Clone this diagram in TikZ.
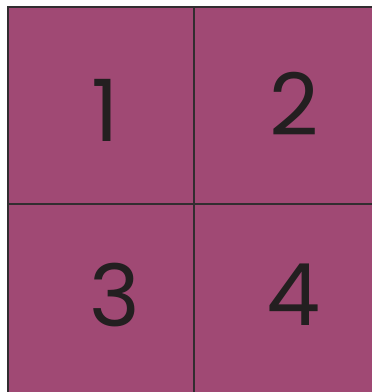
\documentclass[tikz,border=0pt]{standalone}
\usepackage{fontspec}
\setmainfont{Poppins}
\definecolor{cellfill}{RGB}{160,73,116}
\definecolor{ink}{RGB}{35,31,32}
\definecolor{edge}{RGB}{50,45,48}
\begin{document}
\begin{tikzpicture}[x=1pt,y=-1pt,
  digit/.style={text=ink,font=\fontsize{86}{90}\selectfont,inner sep=0pt,anchor=center},
  gridline/.style={draw=edge,line width=1.3pt}]
\useasboundingbox (0,0) rectangle (372,392);
\fill[cellfill] (8,7) rectangle (372,392);
\coordinate (tl) at (8,7);
\coordinate (tr) at (372,7);
\coordinate (bl) at (8,392);
\coordinate (mt) at (194,7);
\coordinate (mb) at (194,392);
\coordinate (ml) at (8,204);
\coordinate (mr) at (372,204);
\draw[gridline,line width=2pt] (bl) -- (tl) -- (tr);
\draw[gridline] (mt) -- (mb);
\draw[gridline] (ml) -- (mr);
\node[digit] (n1) at (105,110) {1};
\node[digit] (n2) at (294,104) {2};
\node[digit] (n3) at (115,295) {3};
\node[digit] (n4) at (294,295) {4};
\end{tikzpicture}
\end{document}
